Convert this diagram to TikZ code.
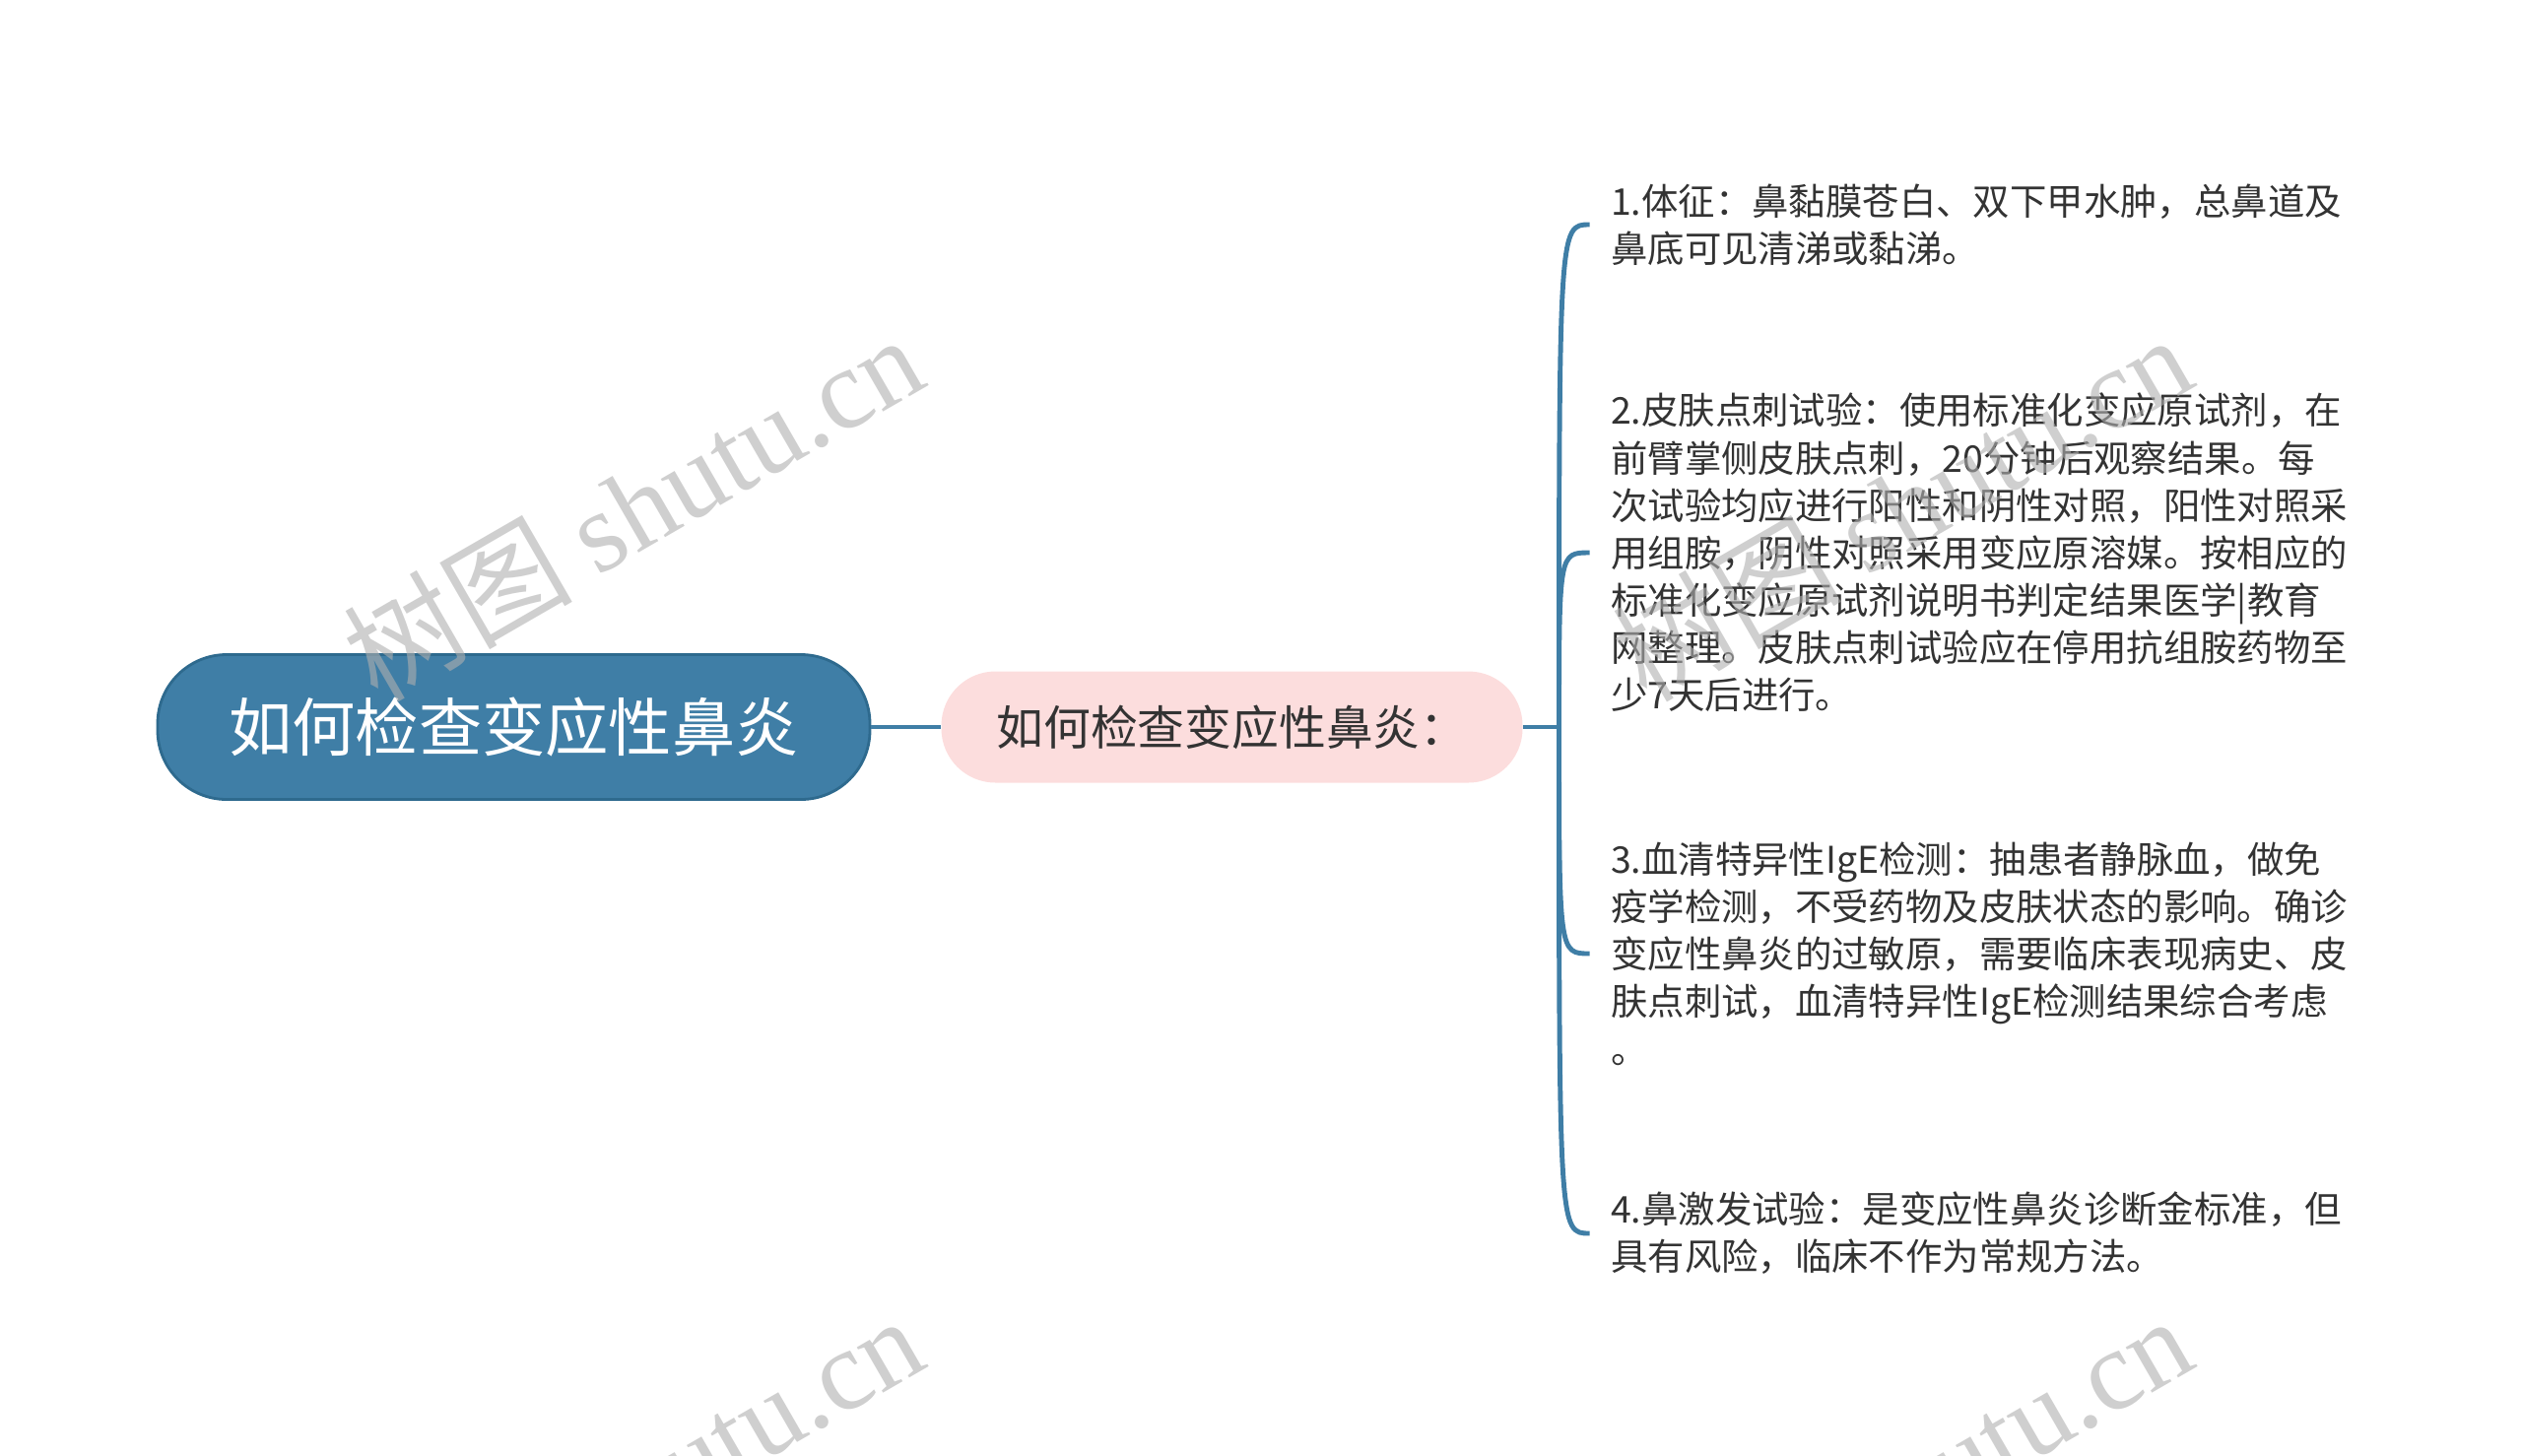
\documentclass[tikz,border=0pt]{standalone}
\usepackage{fontspec}
\setmainfont{Noto Sans CJK SC}
\newfontfamily\wmserif{Liberation Serif}
\usepackage{xcolor}
\usetikzlibrary{calc,positioning}
\definecolor{rootblue}{HTML}{3F7EA6}
\definecolor{rootedge}{HTML}{2E6A8E}
\definecolor{subpink}{HTML}{FCDDDD}
\definecolor{txtgray}{HTML}{333333}
\definecolor{wmgray}{HTML}{AFAFAF}

\begin{document}
\begin{tikzpicture}[line/.style={draw=rootblue, line width=1.4pt}, scale=1.0, every node/.style={scale=1.0}]
% Define styles for root, topic, leaves, fork point and watermark
\tikzstyle{rootbox} = [draw=rootedge, line width=0.8pt, fill=rootblue, rectangle, rounded corners=0.7cm, minimum height=1.47cm, minimum width=7.23cm, text=white, font=\fontsize{18.3pt}{22pt}\selectfont]
\tikzstyle{topicbox} = [fill=subpink, rectangle, rounded corners=0.55cm, minimum height=1.13cm, minimum width=5.90cm, text=txtgray, font=\fontsize{13.6pt}{16pt}\selectfont]
\tikzstyle{leafbox} = [anchor=west, align=left, inner xsep=0.21cm, inner ysep=0pt, text=txtgray, font=\fontsize{10.64pt}{13.7pt}\selectfont]
\tikzstyle{branchpt} = [coordinate]
\tikzstyle{wmark} = [rotate=30, text=wmgray, opacity=0.6, font=\fontsize{33pt}{40pt}\selectfont]

% Canvas
\useasboundingbox (0,0) rectangle (25.6,-14.77);
\clip (0,0) rectangle (25.6,-14.77);

% Nodes placement
\node [rootbox] (root) at (5.215,-7.38) {如何检查变应性鼻炎};
\node [topicbox, right of=root, node distance=7.29cm] (topic) {如何检查变应性鼻炎：};
\node [branchpt, right of=topic, node distance=3.32cm] (fork) {};

% Leaves
\node [leafbox] (item1) at ($(fork)+(0.31,5.10)$) {1.体征：鼻黏膜苍白、双下甲水肿，总鼻道及\\鼻底可见清涕或黏涕。};
\node [leafbox] (item2) at ($(fork)+(0.31,1.77)$) {2.皮肤点刺试验：使用标准化变应原试剂，在\\前臂掌侧皮肤点刺，20分钟后观察结果。每\\次试验均应进行阳性和阴性对照，阳性对照采\\用组胺，阴性对照采用变应原溶媒。按相应的\\标准化变应原试剂说明书判定结果医学|教育\\网整理。皮肤点刺试验应在停用抗组胺药物至\\少7天后进行。};
\node [leafbox] (item3) at ($(fork)+(0.31,-2.30)$) {3.血清特异性IgE检测：抽患者静脉血，做免\\疫学检测，不受药物及皮肤状态的影响。确诊\\变应性鼻炎的过敏原，需要临床表现病史、皮\\肤点刺试，血清特异性IgE检测结果综合考虑\\。};
\node [leafbox] (item4) at ($(fork)+(0.31,-5.14)$) {4.鼻激发试验：是变应性鼻炎诊断金标准，但\\具有风险，临床不作为常规方法。};

% Draw edges
\draw[line] (root) -- (topic);
\draw[line] (topic) -- (fork);
\draw[line] (fork) .. controls (fork |- item1.west) .. (item1.west);
\draw[line] (fork) .. controls (fork |- item2.west) .. (item2.west);
\draw[line] (fork) .. controls (fork |- item3.west) .. (item3.west);
\draw[line] (fork) .. controls (fork |- item4.west) .. (item4.west);

% Watermarks
\node [wmark] (wm1) at (6.42,-5.14) {树图 {\wmserif shutu.cn}};
\node [wmark] (wm2) at (19.30,-5.14) {树图 {\wmserif shutu.cn}};
\node [wmark] (wm3) at (6.42,-15.10) {树图 {\wmserif shutu.cn}};
\node [wmark] (wm4) at (19.30,-15.10) {树图 {\wmserif shutu.cn}};
\end{tikzpicture}
\end{document}
